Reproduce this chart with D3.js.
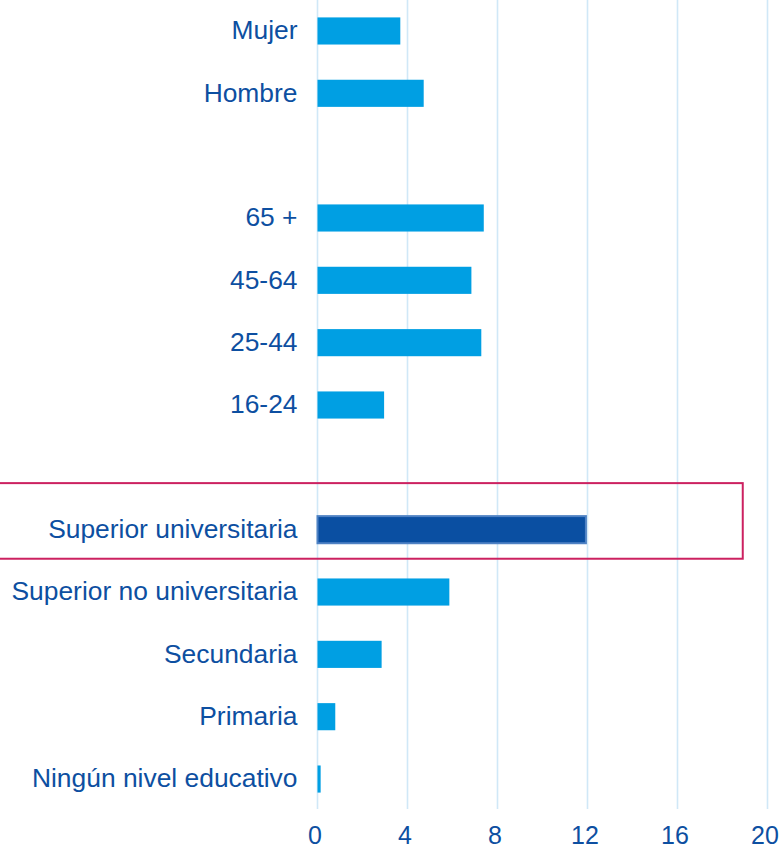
<!DOCTYPE html>
<html>
<head>
<meta charset="utf-8">
<script src="https://cdn.jsdelivr.net/npm/d3@7"></script>
<style>
  html, body { margin: 0; padding: 0; background: #ffffff; }
  svg { display: block; }
</style>
</head>
<body>
<svg id="chart" width="781" height="849"></svg>
<script>
// ---- data ----
const categories = [
  "Mujer", "Hombre", "",
  "65 +", "45-64", "25-44", "16-24", " ",
  "Superior universitaria", "Superior no universitaria",
  "Secundaria", "Primaria", "Ningún nivel educativo"
];
const values = [3.68, 4.72, null, 7.39, 6.84, 7.28, 2.96, null, 11.93, 5.86, 2.85, 0.79, 0.14];
const highlighted = ["Superior universitaria"];
const xTicks = [0, 4, 8, 12, 16, 20];

// ---- layout ----
const W = 781, H = 849;
const svg = d3.select("#chart");
const textColor = "#0d4fa1";
const barColor = "#009fe3";
const hiFill = "#0a4fa2";
const hiStroke = "#4f82c4";
const gridColor = "#d0e8f7";
const fontFamily = "'Liberation Sans', Arial, sans-serif";

const x = d3.scaleLinear().domain([0, 20]).range([317.5, 767.5]);
const y = d3.scaleBand().domain(categories)
  .range([-0.2, 810.2])
  .paddingInner(0.565)
  .paddingOuter(0.2825);

const data = categories.map((c, i) => ({ cat: c, v: values[i] }));

// gridlines
svg.append("g").selectAll("line").data(xTicks).join("line")
  .attr("x1", d => x(d)).attr("x2", d => x(d))
  .attr("y1", 0).attr("y2", 809)
  .attr("stroke", gridColor).attr("stroke-width", 1.6);

// x axis tick labels
const xAxis = d3.axisBottom(x).tickValues(xTicks).tickSize(0).tickPadding(0);
const gx = svg.append("g").attr("transform", "translate(0,826)").call(xAxis);
gx.select(".domain").remove();
gx.selectAll("text")
  .attr("dx", "-3")
  .attr("dy", "0.71em")
  .attr("fill", textColor)
  .style("font-family", fontFamily)
  .style("font-size", "25px");

// bars
const bars = data.filter(d => d.v != null);
svg.append("g").selectAll("rect").data(bars).join("rect")
  .attr("x", x(0))
  .attr("y", d => y(d.cat))
  .attr("width", d => x(d.v) - x(0))
  .attr("height", y.bandwidth())
  .attr("fill", d => highlighted.includes(d.cat) ? hiFill : barColor)
  .attr("stroke", d => highlighted.includes(d.cat) ? hiStroke : "none")
  .attr("stroke-width", 2);

// category labels
const yAxis = d3.axisLeft(y).tickValues(categories.filter(c => c.trim() !== "")).tickSize(0).tickPadding(20);
const gy = svg.append("g").attr("transform", `translate(${x(0)},0)`).call(yAxis);
gy.select(".domain").remove();
gy.selectAll("text")
  .attr("fill", textColor)
  .style("font-family", fontFamily)
  .style("font-size", "26.4px");

// highlight box
highlighted.forEach(c => {
  svg.append("rect")
    .attr("x", -2)
    .attr("y", y(c) - 33)
    .attr("width", x(18.9) + 2)
    .attr("height", y.bandwidth() + 48.5)
    .attr("fill", "none")
    .attr("stroke", "#cc2160")
    .attr("stroke-width", 2);
});
</script>
</body>
</html>
